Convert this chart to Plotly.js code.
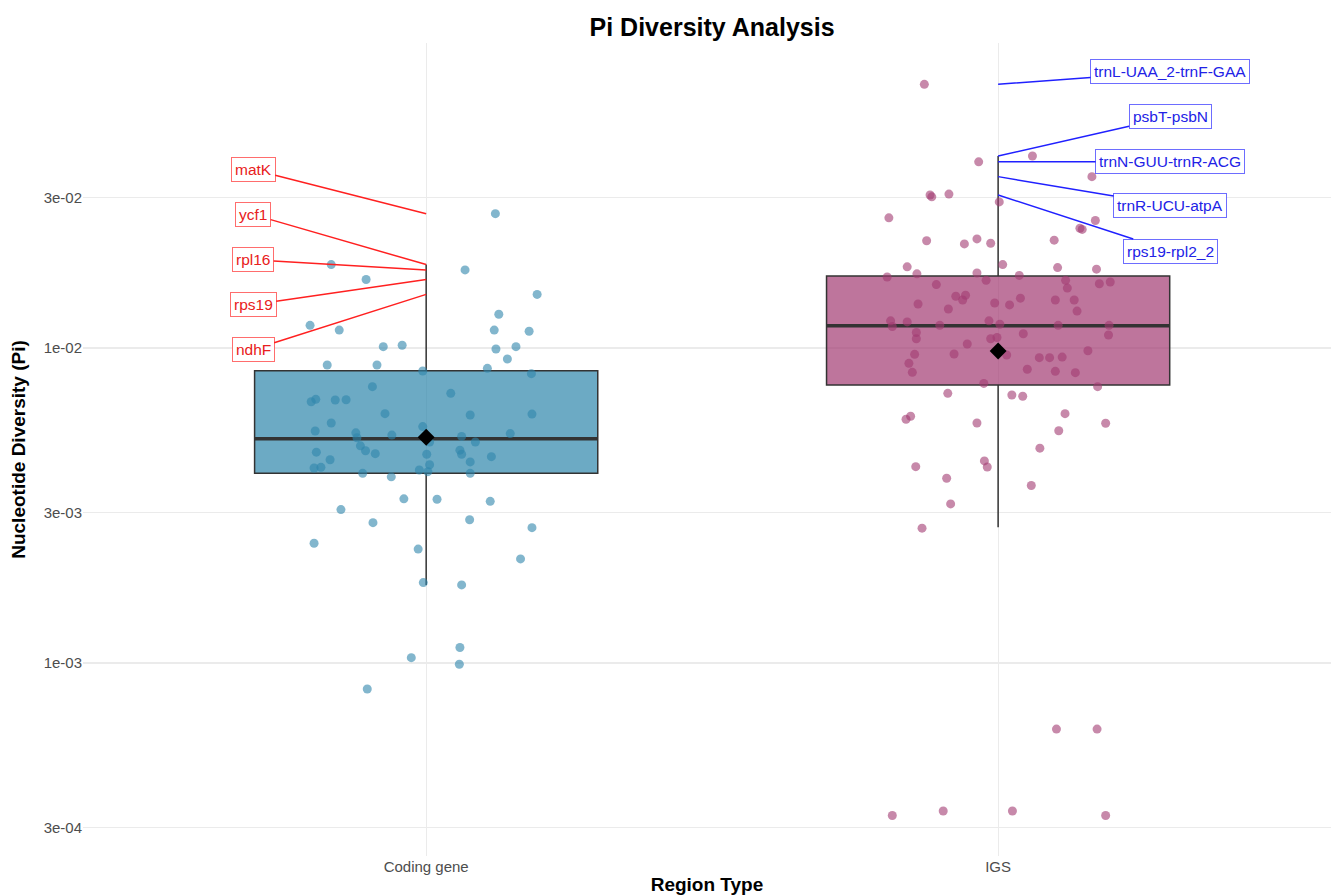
<!DOCTYPE html>
<html>
<head>
<meta charset="utf-8">
<script src="https://cdn.plot.ly/plotly-3.0.1.min.js"></script>
<style>html,body{margin:0;padding:0;background:#fff;}#chart{width:1331px;height:896px;}</style>
</head>
<body>
<div id="chart"></div>
<script>
// ---------------- data ----------------
const categories = ['Coding gene', 'IGS'];

const codingPi = [0.0267, 0.0184, 0.0177, 0.0165, 0.0148, 0.0128, 0.0118, 0.0114, 0.0114, 0.0113,
  0.0101, 0.0102, 0.00993, 0.0101, 0.00923, 0.00883, 0.00883, 0.00845, 0.00862, 0.00829,
  0.00754, 0.00718, 0.00675, 0.00687, 0.00684, 0.00685, 0.00619, 0.00613, 0.00617, 0.00578,
  0.00563, 0.00545, 0.00538, 0.00529, 0.00519, 0.00524, 0.00535, 0.00503, 0.00503, 0.00489,
  0.00472, 0.00467, 0.00462, 0.00474, 0.00460, 0.00460, 0.00442, 0.00452, 0.00435, 0.00426,
  0.00416, 0.00418, 0.00410, 0.00405, 0.00400, 0.00390, 0.00400, 0.00332, 0.00331, 0.00326,
  0.00307, 0.00279, 0.00285, 0.00269, 0.00240, 0.00230, 0.00214, 0.00180, 0.00177, 0.00112,
  0.00104, 0.000991, 0.000827];
const codingJitter = [0.121, -0.166, 0.068, -0.105, 0.194, 0.127, -0.203, -0.152, 0.119, 0.180,
  -0.075, -0.042, 0.122, 0.157, 0.142, -0.173, -0.086, -0.006, 0.107, 0.184,
  -0.094, 0.043, -0.201, -0.193, -0.159, -0.140, -0.072, 0.077, 0.185, -0.166,
  -0.006, -0.194, -0.123, -0.060, -0.121, 0.062, 0.147, 0.006, 0.086, -0.115,
  -0.106, -0.192, -0.089, 0.059, 0.062, 0.001, -0.168, 0.114, 0.077, 0.006,
  -0.196, -0.184, -0.012, 0.003, -0.111, -0.061, 0.077, -0.039, 0.019, 0.112,
  -0.149, -0.093, 0.076, 0.185, -0.196, -0.014, 0.165, -0.005, 0.062, 0.059,
  -0.026, 0.058, -0.103];

const igsPi = [0.0687, 0.0390, 0.0407, 0.0350, 0.0306, 0.0302, 0.0308, 0.0291, 0.0259, 0.0254,
  0.0240, 0.0238, 0.0219, 0.0214, 0.0222, 0.0215, 0.0220, 0.0181, 0.0172, 0.0173,
  0.0184, 0.0180, 0.0178, 0.0170, 0.0168, 0.0164, 0.0164, 0.0155, 0.0160, 0.0162,
  0.0159, 0.0146, 0.0147, 0.0142, 0.0144, 0.0142, 0.0142, 0.0138, 0.0139, 0.0137,
  0.0133, 0.0131, 0.0122, 0.0117, 0.0121, 0.0118, 0.0122, 0.0119, 0.0118, 0.0118,
  0.0112, 0.0107, 0.0111, 0.0110, 0.0107, 0.0108, 0.0103, 0.00955, 0.00957, 0.00950,
  0.00980, 0.00932, 0.00932, 0.00936, 0.00894, 0.00837, 0.00856, 0.00843, 0.00835, 0.00772,
  0.00754, 0.00718, 0.00709, 0.00703, 0.00594, 0.00607, 0.00578, 0.00619, 0.00577, 0.00546,
  0.00481, 0.00420, 0.00438, 0.00419, 0.00386, 0.00366, 0.00320, 0.00268, 0.000617, 0.000617,
  0.000328, 0.000339, 0.000339, 0.000328];
const igsJitter = [-0.129, -0.034, 0.060, 0.164, -0.119, -0.116, -0.086, 0.002, -0.191, 0.170,
  0.143, 0.147, -0.125, -0.059, -0.037, -0.013, 0.098, -0.159, -0.142, -0.037,
  0.008, 0.104, 0.172, 0.037, -0.194, -0.021, 0.118, 0.121, 0.177, 0.196,
  -0.108, -0.074, -0.057, -0.062, 0.039, 0.100, 0.133, -0.140, -0.006, 0.020,
  -0.087, 0.138, -0.188, -0.185, -0.159, -0.102, -0.016, 0.003, 0.105, 0.194,
  -0.143, -0.143, 0.044, 0.193, -0.013, -0.002, -0.054, -0.146, -0.077, 0.015,
  0.157, 0.072, 0.090, 0.112, -0.156, -0.150, 0.051, 0.100, 0.135, -0.025,
  0.174, -0.088, 0.024, 0.043, -0.161, -0.153, -0.037, 0.117, 0.188, 0.106,
  0.073, -0.144, -0.024, -0.019, -0.090, 0.058, -0.083, -0.133, 0.102, 0.173,
  -0.185, -0.096, 0.025, 0.188];

// box summary (computed on log scale, as in the source figure)
const boxQ1      = [0.00400, 0.00763];
const boxMedian  = [0.00515, 0.01177];
const boxQ3      = [0.00847, 0.01693];
const boxLower   = [0.00177, 0.00270];
const boxUpper   = [0.0184, 0.0407];
const boxMean    = [0.00521, 0.00978];

// labelled regions
const codingLabels   = ['matK', 'ycf1', 'rpl16', 'rps19', 'ndhF'];
const codingLabelPi  = [0.0267, 0.0184, 0.0177, 0.0165, 0.0148];
const igsLabels      = ['trnL-UAA_2-trnF-GAA', 'psbT-psbN', 'trnN-GUU-trnR-ACG', 'trnR-UCU-atpA', 'rps19-rpl2_2'];
const igsLabelPi     = [0.0687, 0.0407, 0.0390, 0.0350, 0.0306];

const yTickVals = [3e-4, 1e-3, 3e-3, 1e-2, 3e-2];
const yTickText = ['3e-04', '1e-03', '3e-03', '1e-02', '3e-02'];

// ---------------- styling ----------------
const FONT = 'Liberation Sans, Arial, Helvetica, sans-serif';
const fills = ['rgba(46,134,171,0.7)', 'rgba(162,59,114,0.7)'];
const pointCols = ['rgba(46,134,171,0.6)', 'rgba(162,59,114,0.6)'];
const BOXW = 0.6;

const traces = [];
[0, 1].forEach(i => {
  traces.push({
    type: 'box', x: [i], q1: [boxQ1[i]], median: [boxMedian[i]], q3: [boxQ3[i]],
    lowerfence: [boxLower[i]], upperfence: [boxUpper[i]],
    width: BOXW, whiskerwidth: 0, boxpoints: false,
    fillcolor: fills[i], line: {color: '#333333', width: 1.5},
    hoverinfo: 'skip', showlegend: false
  });
});
[0, 1].forEach(i => {
  traces.push({
    type: 'scatter', mode: 'lines', x: [i - BOXW / 2, i + BOXW / 2], y: [boxMedian[i], boxMedian[i]],
    line: {color: '#333333', width: 3.5}, hoverinfo: 'skip', showlegend: false
  });
});
const pts = [[codingPi, codingJitter], [igsPi, igsJitter]];
pts.forEach(([vals, jit], i) => {
  traces.push({
    type: 'scatter', mode: 'markers',
    x: vals.map((v, k) => i + jit[k]), y: vals,
    marker: {color: pointCols[i], size: 9, line: {width: 0}},
    name: categories[i], showlegend: false
  });
});
traces.push({
  type: 'scatter', mode: 'markers', x: [0, 1], y: boxMean,
  marker: {symbol: 'diamond', color: '#000000', size: 13, line: {width: 0}},
  showlegend: false, hoverinfo: 'y'
});

// label placement (pixel offsets of the label boxes from their points)
const codingOffsetX = -173, codingOffsetY = [-44, -50, -10, 25, 55];
const igsOffsetX = 172, igsOffsetY = [-13, -39, 0, 29, 56];

const annotations = [];
codingLabels.forEach((t, k) => annotations.push({
  x: 0, y: Math.log10(codingLabelPi[k]), xref: 'x', yref: 'y', text: t,
  showarrow: true, arrowhead: 0, arrowwidth: 1.5, arrowcolor: '#FF2020', standoff: 0,
  ax: codingOffsetX, ay: codingOffsetY[k],
  font: {family: FONT, size: 15.5, color: '#E82020'},
  bgcolor: '#FFFFFF', bordercolor: 'rgba(255,60,60,0.75)', borderwidth: 1, borderpad: 3
}));
igsLabels.forEach((t, k) => annotations.push({
  x: 1, y: Math.log10(igsLabelPi[k]), xref: 'x', yref: 'y', text: t,
  showarrow: true, arrowhead: 0, arrowwidth: 1.5, arrowcolor: '#2020FF', standoff: 0,
  ax: igsOffsetX, ay: igsOffsetY[k],
  font: {family: FONT, size: 15.5, color: '#2222E6'},
  bgcolor: '#FFFFFF', bordercolor: 'rgba(60,60,255,0.75)', borderwidth: 1, borderpad: 3
}));

const layout = {
  width: 1331, height: 896,
  margin: {l: 83, r: 0, t: 43, b: 40},
  paper_bgcolor: '#FFFFFF', plot_bgcolor: '#FFFFFF',
  font: {family: FONT, color: '#4D4D4D'},
  title: {text: '<b>Pi Diversity Analysis</b>', x: 0.535, xref: 'container', xanchor: 'center',
          y: 1 - 27 / 896, yref: 'container', yanchor: 'middle',
          font: {family: FONT, size: 25, color: '#000000'}},
  xaxis: {
    range: [-0.6, 1.582], tickvals: [0, 1], ticktext: categories,
    showgrid: true, gridcolor: '#EBEBEB', gridwidth: 1.2, zeroline: false, showline: false, ticks: '',
    tickfont: {family: FONT, size: 15, color: '#4D4D4D'},
    title: {text: '<b>Region Type</b>', font: {family: FONT, size: 19, color: '#000000'}, standoff: 3}
  },
  yaxis: {
    type: 'log', range: [-3.6127, -1.0317], tickvals: yTickVals, ticktext: yTickText,
    showgrid: true, gridcolor: '#EBEBEB', gridwidth: 1.2, zeroline: false, showline: false, ticks: '',
    tickfont: {family: FONT, size: 15, color: '#4D4D4D'},
    title: {text: '<b>Nucleotide Diversity (Pi)</b>', font: {family: FONT, size: 19, color: '#000000'}, standoff: 12}
  },
  annotations: annotations,
  showlegend: false
};

Plotly.newPlot('chart', traces, layout, {displayModeBar: false, staticPlot: true});
</script>
</body>
</html>
